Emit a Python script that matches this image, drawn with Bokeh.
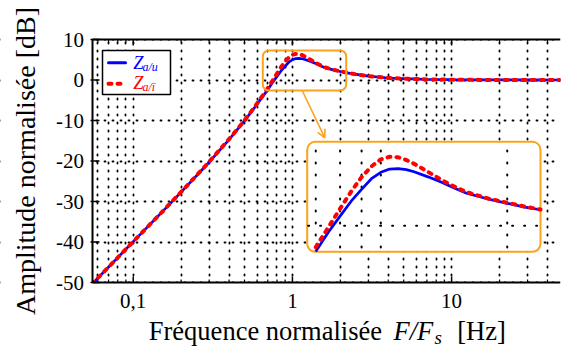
import math
from bokeh.plotting import figure
from bokeh.models import (FixedTicker, LogScale, LinearScale, Range1d,
                          BoxAnnotation, Arrow, OpenHead, Label, Grid)
from bokeh.embed import file_html
from bokeh.resources import INLINE

# ---------------- data ----------------
freq = [0.055, 0.07, 0.1, 0.15, 0.2, 0.3, 0.4, 0.5, 0.6, 0.65, 0.7, 0.75, 0.8,
        0.85, 0.9, 0.95, 1.0, 1.05, 1.1, 1.15, 1.2, 1.3, 1.4, 1.5, 1.6, 1.8,
        2.0, 2.2, 2.4, 3.0, 4.0, 5.0, 7.0, 10, 15, 20, 30, 50]
z_au = [-50.4, -46.2, -39.9, -32.8, -27.7, -20.3, -14.7, -10.1, -6.0, -4.1,
        -2.4, -0.6, 0.9, 2.3, 3.4, 4.4, 5.0, 5.3, 5.35, 5.25, 5.05, 4.55, 4.05,
        3.5, 3.05, 2.5, 2.1, 1.75, 1.5, 0.95, 0.5, 0.32, 0.15, 0.07, 0.03,
        0.02, 0.01, 0.0]
z_ai = [-50.4, -46.2, -39.9, -32.8, -27.65, -20.2, -14.6, -10.0, -5.8, -3.85,
        -2.0, -0.15, 1.6, 3.2, 4.55, 5.55, 6.2, 6.45, 6.4, 6.15, 5.8, 5.0, 4.25,
        3.65, 3.15, 2.55, 2.15, 1.8, 1.52, 0.97, 0.5, 0.32, 0.15, 0.07, 0.03,
        0.02, 0.01, 0.0]

x_major_ticks = [0.1, 1, 10]
x_tick_labels = ["0,1", "1", "10"]
x_minor_ticks = [0.06, 0.07, 0.08, 0.09, 0.2, 0.3, 0.4, 0.5, 0.6, 0.7, 0.8,
                 0.9, 2, 3, 4, 5, 6, 7, 8, 9, 20, 30, 40]
y_ticks = [-50, -40, -30, -20, -10, 0, 10]
y_tick_labels = ["-50", "-40", "-30", "-20", "-10", "0", "10"]

inset_x_ticks = [0.7, 0.8, 0.9, 1, 2]
inset_y_ticks = [0]
inset_x_lim = (0.668, 2.40)
inset_y_lim = (-2.43, 7.85)

series_main = ["Z", "Z"]
series_sub = ["a/u", "a/ī"]
x_label_parts = ["Fréquence normalisée", "F/F", "s", "[Hz]"]
y_label = "Amplitude normalisée [dB]"

# ---------------- layout / style ----------------
FIG_W, FIG_H = 561, 347
FRAME_R = 560                     # drawing frame: x 0..560, y 0..347
PLOT_L, PLOT_T, PLOT_B = 92, 39, 282   # pixel positions of the axes box
X_MIN, X_MAX = 0.0555, 48.3
Y_MIN, Y_MAX = -50, 10
INSET_BOX = (306.7, 540.0, 141.3, 251.3)   # left, right, top, bottom (px)
ZOOM_BOX = (262.3, 345.7, 50.0, 90.0)
LEGEND_BOX = (102.0, 170.0, 50.0, 94.0)
BLUE, RED, ORANGE = "#0000FF", "#FF0000", "#FBA31C"
SERIF = "Liberation Serif"
MID = 0.3375                      # em-box middle above the baseline
XLAB, YLAB, TICK = 26.5, 28.0, 21.0

lx0, lx1 = math.log10(X_MIN), math.log10(X_MAX)
DB_PER_PX = (Y_MAX - Y_MIN) / (PLOT_B - PLOT_T)


def fx(px):
    return 10 ** (lx0 + (px - PLOT_L) / (FRAME_R - PLOT_L) * (lx1 - lx0))


def fy(py):
    return Y_MAX - (py - PLOT_T) * DB_PER_PX


def text_y(baseline_px, size):
    return fy(baseline_px - MID * size)


# extra (inset) ranges spanning the whole frame
il, ir, it, ib = INSET_BOX
ilx0, ilx1 = math.log10(inset_x_lim[0]), math.log10(inset_x_lim[1])
dpx = (ilx1 - ilx0) / (ir - il)
ext_x0 = 10 ** (ilx0 - il * dpx)
ext_x1 = 10 ** (ilx1 + (FRAME_R - ir) * dpx)
dpy = (inset_y_lim[1] - inset_y_lim[0]) / (ib - it)
ext_y1 = inset_y_lim[1] + it * dpy
ext_y0 = inset_y_lim[0] - (FIG_H - ib) * dpy

p = figure(x_axis_type="log", x_axis_location=None, y_axis_location=None,
           x_range=Range1d(fx(0), X_MAX), y_range=Range1d(fy(FIG_H), fy(0)),
           frame_width=FRAME_R, frame_height=FIG_H,
           min_border_left=0, min_border_top=0,
           min_border_right=FIG_W - FRAME_R, min_border_bottom=0,
           output_backend="svg", toolbar_location=None)
p.outline_line_color = None
p.background_fill_color = "white"
p.border_fill_color = "white"
p.extra_x_ranges = {"inset": Range1d(ext_x0, ext_x1)}
p.extra_x_scales = {"inset": LogScale()}
p.extra_y_ranges = {"inset": Range1d(ext_y0, ext_y1)}
p.extra_y_scales = {"inset": LinearScale()}

# dotted grids
p.center = [c for c in p.center if not isinstance(c, Grid)]
xticker = FixedTicker(ticks=x_major_ticks, minor_ticks=x_minor_ticks)
yticker = FixedTicker(ticks=y_ticks, minor_ticks=[])
DOT = dict(grid_line_color="black", grid_line_width=1.8, grid_line_dash="1 7",
           grid_line_cap="round")
p.add_layout(Grid(dimension=0, ticker=xticker, minor_grid_line_color="black",
                  minor_grid_line_width=1.8, minor_grid_line_dash="1 7",
                  minor_grid_line_cap="round", **DOT))
p.add_layout(Grid(dimension=1, ticker=yticker, **DOT))

# white margins (label areas) around the axes box
WHITE = dict(fill_color="white", fill_alpha=1, line_alpha=0)
p.add_layout(BoxAnnotation(top=Y_MIN, **WHITE))
p.add_layout(BoxAnnotation(bottom=Y_MAX, **WHITE))
p.add_layout(BoxAnnotation(right=X_MIN, **WHITE))

# axis lines (bottom, top, left)
for xs, ys, xe, ye in ((X_MIN, Y_MIN, X_MAX, Y_MIN), (X_MIN, Y_MAX, X_MAX, Y_MAX),
                       (X_MIN, Y_MIN, X_MIN, Y_MAX)):
    p.add_layout(Arrow(end=None, x_start=xs, y_start=ys, x_end=xe, y_end=ye,
                       line_color="black", line_width=2))

# x ticks (inward, bottom and top) and tick labels
nM, nm = len(x_major_ticks), len(x_minor_ticks)
for base, sign in ((Y_MIN, 1), (Y_MAX, -1)):
    p.segment(x0=x_major_ticks, x1=x_major_ticks, y0=[base] * nM,
              y1=[base + sign * 6 * DB_PER_PX] * nM, line_color="black",
              line_width=1.5, level="overlay")
    p.segment(x0=x_minor_ticks, x1=x_minor_ticks, y0=[base] * nm,
              y1=[base + sign * 3 * DB_PER_PX] * nm, line_color="black",
              line_width=1.2, level="overlay")
for t, lab in zip(x_major_ticks, x_tick_labels):
    p.add_layout(Label(x=t, y=text_y(307.7, TICK), text=lab, text_font=SERIF,
                       text_font_size=f"{TICK}px", text_color="black",
                       text_align="center", text_baseline="middle"))

# left axis ticks (crossing) and tick labels
ny = len(y_ticks)
p.segment(x0=[fx(PLOT_L - 2)] * ny, x1=[fx(PLOT_L + 7)] * ny, y0=y_ticks,
          y1=y_ticks, line_color="black", line_width=1.5, level="overlay")
for t, lab in zip(y_ticks, y_tick_labels):
    p.add_layout(Label(x=fx(83.5), y=t, text=lab, text_font=SERIF,
                       text_font_size=f"{TICK}px", text_color="black",
                       text_align="right", text_baseline="middle"))

# y axis label (rotated)
p.add_layout(Label(x=fx(34.5 - MID * YLAB), y=(Y_MIN + Y_MAX) / 2, text=y_label,
                   angle=math.pi / 2, text_font=SERIF,
                   text_font_size=f"{YLAB}px", text_color="black",
                   text_align="center", text_baseline="middle"))

# main curves
p.line(freq, z_au, line_color=BLUE, line_width=2.7)
p.line(freq, z_ai, line_color=RED, line_width=4, line_dash="3 6",
       line_cap="round")

# zoom rectangle + arrow
zl, zr, zt, zb = ZOOM_BOX
p.add_layout(BoxAnnotation(left=fx(zl), right=fx(zr), top=fy(zt), bottom=fy(zb),
                           fill_alpha=0, line_color=ORANGE, line_alpha=1,
                           line_width=2, border_radius=6))
p.add_layout(Arrow(end=OpenHead(size=8, line_color=ORANGE, line_width=1.6),
                   x_start=fx(301.7), y_start=fy(zb), x_end=fx(324.3),
                   y_end=fy(137.3), line_color=ORANGE, line_width=1.6))

# inset
p.add_layout(BoxAnnotation(left=inset_x_lim[0], right=inset_x_lim[1],
                           bottom=inset_y_lim[0], top=inset_y_lim[1],
                           x_range_name="inset", y_range_name="inset",
                           fill_color="white", fill_alpha=1,
                           line_color=ORANGE, line_alpha=1, line_width=2,
                           border_radius=8))
n = len(inset_x_ticks)
p.segment(x0=inset_x_ticks, x1=inset_x_ticks,
          y0=[inset_y_lim[0] + 0.4] * n, y1=[inset_y_lim[1] - 0.1] * n,
          x_range_name="inset", y_range_name="inset", line_color="black",
          line_width=2, line_dash="1 11", line_cap="round", level="overlay")
m = len(inset_y_ticks)
p.segment(x0=[inset_x_lim[0] * 1.005] * m, x1=[inset_x_lim[1]] * m,
          y0=inset_y_ticks, y1=inset_y_ticks,
          x_range_name="inset", y_range_name="inset", line_color="black",
          line_width=2, line_dash="1 11", line_cap="round", level="overlay")
idx = [i for i, f in enumerate(freq)
       if inset_x_lim[0] <= f <= inset_x_lim[1] + 1e-9]
f_in = [freq[i] for i in idx]
p.line(f_in, [z_au[i] for i in idx], x_range_name="inset", y_range_name="inset",
       line_color=BLUE, line_width=2.7, level="overlay")
p.line(f_in, [z_ai[i] for i in idx], x_range_name="inset", y_range_name="inset",
       line_color=RED, line_width=4, line_dash="3 6", line_cap="round",
       level="overlay")

# legend (manual, to allow subscripts)
ll, lr, lt, lb = LEGEND_BOX
p.add_layout(BoxAnnotation(left=fx(ll), right=fx(lr), top=fy(lt), bottom=fy(lb),
                           fill_color="white", fill_alpha=1, line_color="black",
                           line_alpha=1, line_width=1.5))
rows = [(62.3, 68.3, 70.5, BLUE, "solid"), (83.3, 88.3, 91.0, RED, "3 6")]
for (ly, zb_, sb_, col, dash), main, sub in zip(rows, series_main, series_sub):
    p.add_layout(Arrow(end=None, x_start=fx(108), y_start=fy(ly), x_end=fx(125),
                       y_end=fy(ly), line_color=col, line_dash=dash,
                       line_width=3 if dash == "solid" else 4, line_cap="round"))
    p.add_layout(Label(x=fx(132.7), y=text_y(zb_, 18.5), text=main,
                       text_font=SERIF, text_font_style="italic",
                       text_font_size="18.5px", text_color=col,
                       text_baseline="middle"))
    p.add_layout(Label(x=fx(142), y=text_y(sb_, 12), text=sub, text_font=SERIF,
                       text_font_style="italic", text_font_size="12px",
                       text_color=col, text_baseline="middle"))

# x axis label with italic / subscript parts
parts = [(x_label_parts[0], 148.3, 339.0, "normal", XLAB),
         (x_label_parts[1], 393.0, 339.0, "italic", XLAB),
         (x_label_parts[2], 434.0, 343.5, "italic", 19.0),
         (x_label_parts[3], 456.7, 339.0, "normal", XLAB)]
for txt, px, py, style, size in parts:
    p.add_layout(Label(x=fx(px), y=text_y(py, size), text=txt, text_font=SERIF,
                       text_font_style=style, text_font_size=f"{size}px",
                       text_color="black", text_baseline="middle"))

open("out.html", "w").write(file_html(p, INLINE))
